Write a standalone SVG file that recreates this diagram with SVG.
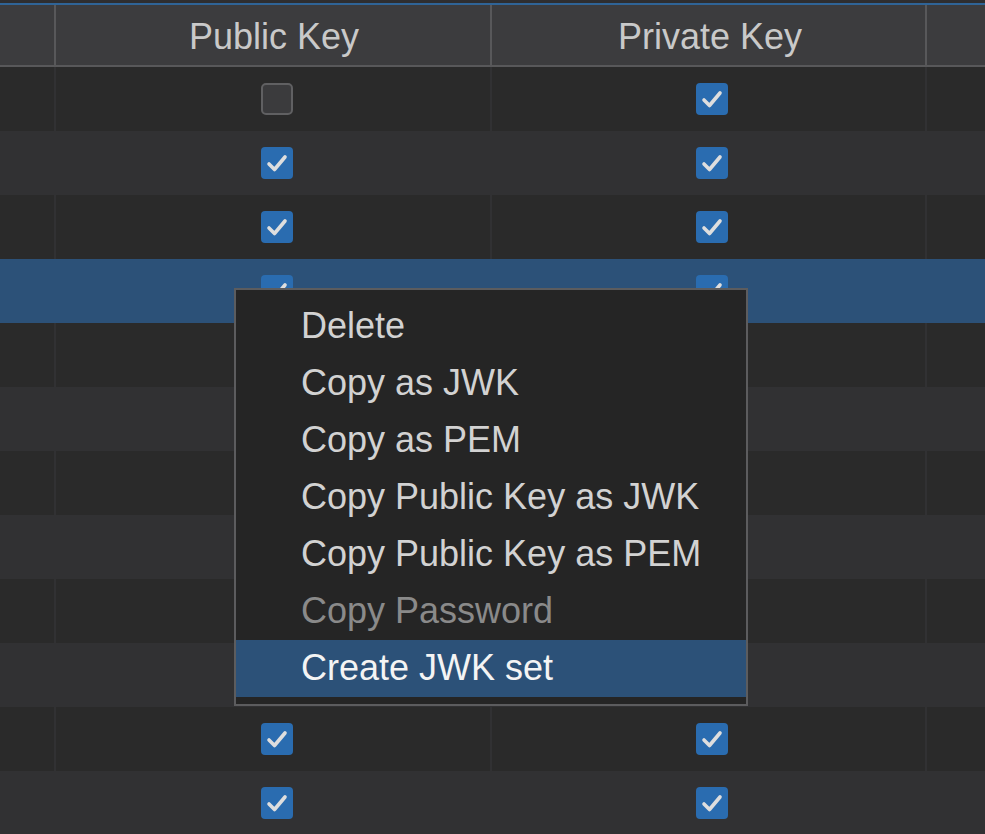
<svg xmlns="http://www.w3.org/2000/svg" xmlns:xlink="http://www.w3.org/1999/xlink" width="985" height="834" viewBox="0 0 985 834">
<style>
.hdr{font-family:"Liberation Sans",Arial,sans-serif;font-size:36px;fill:#c9c9c9;text-anchor:middle}
.mi{font-family:"Liberation Sans",Arial,sans-serif;font-size:36px;fill:#d2d2d2}
.dis{fill:#8a8a8a}
.sel{fill:#f4f4f4}
.dark{fill:#2a2a2a}
.light{fill:#313133}
.cdiv{stroke:#313133;stroke-width:2}
.hdiv{stroke:#58585a;stroke-width:2}
</style>
<defs>
<g id="chk">
<rect x="0" y="0" width="32" height="32" rx="4" fill="#2a6cb0"/>
<path d="M8 17 L13.5 22.5 L24 10" fill="none" stroke="#dedede" stroke-width="3.6" stroke-linecap="round" stroke-linejoin="round"/>
</g>
<g id="unchk">
<rect x="1" y="1" width="30" height="30" rx="4" fill="#3b3b3d" stroke="#606062" stroke-width="2"/>
</g>
</defs>
<rect width="985" height="834" fill="#2a2a2a"/>
<g id="header">
<rect x="0" y="0" width="985" height="4" fill="#2e2e30"/>
<rect x="0" y="3" width="985" height="2" fill="#2f6497"/>
<rect x="0" y="5" width="985" height="61" fill="#3c3c3e"/>
<line x1="0" y1="66" x2="985" y2="66" class="hdiv"/>
<line x1="55" y1="5" x2="55" y2="66" class="hdiv"/>
<line x1="491" y1="5" x2="491" y2="66" class="hdiv"/>
<line x1="926" y1="5" x2="926" y2="66" class="hdiv"/>
<text class="hdr" x="274" y="49">Public Key</text>
<text class="hdr" x="710" y="49">Private Key</text>
</g>
<g id="rows">
<rect x="0" y="67" width="985" height="64" class="dark"/>
<rect x="0" y="131" width="985" height="64" class="light"/>
<rect x="0" y="195" width="985" height="64" class="dark"/>
<rect x="0" y="259" width="985" height="64" fill="#2c5178"/>
<rect x="0" y="323" width="985" height="64" class="dark"/>
<rect x="0" y="387" width="985" height="64" class="light"/>
<rect x="0" y="451" width="985" height="64" class="dark"/>
<rect x="0" y="515" width="985" height="64" class="light"/>
<rect x="0" y="579" width="985" height="64" class="dark"/>
<rect x="0" y="643" width="985" height="64" class="light"/>
<rect x="0" y="707" width="985" height="64" class="dark"/>
<rect x="0" y="771" width="985" height="63" class="light"/>
<g id="col-dividers">
<line x1="55" y1="67" x2="55" y2="131" class="cdiv"/><line x1="491" y1="67" x2="491" y2="131" class="cdiv"/><line x1="926" y1="67" x2="926" y2="131" class="cdiv"/>
<line x1="55" y1="195" x2="55" y2="259" class="cdiv"/><line x1="491" y1="195" x2="491" y2="259" class="cdiv"/><line x1="926" y1="195" x2="926" y2="259" class="cdiv"/>
<line x1="55" y1="323" x2="55" y2="387" class="cdiv"/><line x1="491" y1="323" x2="491" y2="387" class="cdiv"/><line x1="926" y1="323" x2="926" y2="387" class="cdiv"/>
<line x1="55" y1="451" x2="55" y2="515" class="cdiv"/><line x1="491" y1="451" x2="491" y2="515" class="cdiv"/><line x1="926" y1="451" x2="926" y2="515" class="cdiv"/>
<line x1="55" y1="579" x2="55" y2="643" class="cdiv"/><line x1="491" y1="579" x2="491" y2="643" class="cdiv"/><line x1="926" y1="579" x2="926" y2="643" class="cdiv"/>
<line x1="55" y1="707" x2="55" y2="771" class="cdiv"/><line x1="491" y1="707" x2="491" y2="771" class="cdiv"/><line x1="926" y1="707" x2="926" y2="771" class="cdiv"/>
</g>
<g id="checkboxes">
<use xlink:href="#unchk" href="#unchk" x="261" y="83"/>
<use xlink:href="#chk" href="#chk" x="696" y="83"/>
<use xlink:href="#chk" href="#chk" x="261" y="147"/>
<use xlink:href="#chk" href="#chk" x="696" y="147"/>
<use xlink:href="#chk" href="#chk" x="261" y="211"/>
<use xlink:href="#chk" href="#chk" x="696" y="211"/>
<use xlink:href="#chk" href="#chk" x="261" y="275"/>
<use xlink:href="#chk" href="#chk" x="696" y="275"/>
<use xlink:href="#chk" href="#chk" x="261" y="723"/>
<use xlink:href="#chk" href="#chk" x="696" y="723"/>
<use xlink:href="#chk" href="#chk" x="261" y="787"/>
<use xlink:href="#chk" href="#chk" x="696" y="787"/>
</g>
</g>
<g id="connectors"/>
<g id="context-menu">
<rect x="235" y="289" width="512" height="416" fill="#252525" stroke="#5c5c5e" stroke-width="2"/>
<rect x="236" y="640" width="510" height="57" fill="#2c5178"/>
<g id="item-delete"><text class="mi" x="301" y="338">Delete</text></g>
<g id="item-copy-jwk"><text class="mi" x="301" y="395">Copy as JWK</text></g>
<g id="item-copy-pem"><text class="mi" x="301" y="452">Copy as PEM</text></g>
<g id="item-copy-pub-jwk"><text class="mi" x="301" y="509">Copy Public Key as JWK</text></g>
<g id="item-copy-pub-pem"><text class="mi" x="301" y="566">Copy Public Key as PEM</text></g>
<g id="item-copy-password"><text class="mi dis" x="301" y="623">Copy Password</text></g>
<g id="item-create-jwk-set"><text class="mi sel" x="301" y="680">Create JWK set</text></g>
</g>
</svg>
